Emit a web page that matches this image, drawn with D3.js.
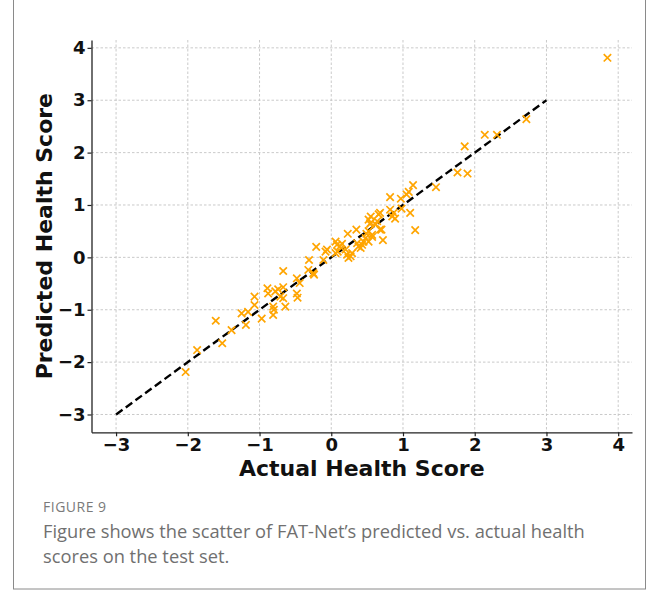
<!DOCTYPE html>
<html>
<head>
<meta charset="utf-8">
<script src="https://cdn.jsdelivr.net/npm/d3@7"></script>
<style>
  body { margin: 0; background: #fff; }
  svg text { font-family: "DejaVu Sans", sans-serif; }
  .cap { font-family: "Open Sans", "Noto Sans", sans-serif; }
</style>
</head>
<body>
<div id="chart"></div>
<script>
// Width and height
var chart_width  = 658;
var chart_height = 591;

// data
var actual = [
  3.85, 2.72, 2.14, 2.31, 1.86, 1.76, 1.90, 1.46, 1.14, 1.08, 1.05, 0.97, 0.82, 1.10, 1.17,
  0.98, 0.82, 0.87, 0.89, 0.85, 0.66, 0.68, 0.62, 0.64, 0.68, 0.72, 0.55, 0.52, 0.55, 0.52,
  0.57, 0.57, 0.48, 0.52, 0.45, 0.43, 0.41, 0.38, 0.36, 0.35, 0.23, 0.29, 0.27, 0.24, 0.22,
  0.20, 0.06, 0.08, 0.12, 0.15, 0.09, 0.06, -0.06, -0.11, -0.08, -0.21, -0.31, -0.32, -0.25, -0.24,
  -0.48, -0.48, -0.47, -0.44, -0.67, -0.67, -0.67, -0.64, -0.71, -0.74, -0.78, -0.80, -0.81, -0.81,
  -0.88, -0.89, -0.97, -1.07, -1.07, -1.16, -1.25, -1.19, -1.39, -1.52, -1.61, -1.87, -2.03,
  0.54, 0.49, 0.70
];
var predicted = [
  3.81, 2.64, 2.34, 2.34, 2.12, 1.62, 1.60, 1.34, 1.38, 1.25, 1.20, 1.12, 1.15, 0.85, 0.52,
  0.93, 0.91, 0.85, 0.74, 0.78, 0.82, 0.85, 0.63, 0.69, 0.53, 0.33, 0.66, 0.72, 0.78, 0.50,
  0.43, 0.39, 0.37, 0.30, 0.30, 0.24, 0.18, 0.21, 0.27, 0.53, 0.45, 0.08, 0.02, -0.01, 0.05,
  0.15, 0.30, 0.24, 0.21, 0.26, 0.11, 0.08, 0.15, -0.05, 0.11, 0.20, -0.05, -0.24, -0.30, -0.33,
  -0.40, -0.69, -0.77, -0.49, -0.26, -0.57, -0.78, -0.94, -0.75, -0.61, -0.65, -1.00, -0.94, -1.10,
  -0.69, -0.59, -1.17, -0.75, -0.91, -1.04, -1.07, -1.29, -1.39, -1.64, -1.21, -1.77, -2.19,
  0.64, 0.45, 0.53
];
var ideal_line = [-3, 3];
var x_ticks = [-3, -2, -1, 0, 1, 2, 3, 4];
var y_ticks = [-3, -2, -1, 0, 1, 2, 3, 4];
var caption_title = 'FIGURE 9';
var caption_lines = [
  'Figure shows the scatter of FAT-Net\u2019s predicted vs. actual health',
  'scores on the test set.'
];

var points = actual.map((a, i) => ({a: a, p: predicted[i]}));

var plot = {left: 91.5, right: 632, top: 40, bottom: 432.3};

var x_scale = d3.scaleLinear().domain([-3.3425, 4.1925]).range([plot.left, plot.right]);
var y_scale = d3.scaleLinear().domain([-3.34, 4.15]).range([plot.bottom, plot.top]);

var minus = (d) => d3.format('d')(d).replace('-', '\u2212');

// Create SVG
var svg = d3.select('#chart')
  .append('svg')
  .attr('width', chart_width)
  .attr('height', chart_height);

// outer frame
svg.append('rect')
  .attr('x', 13.5)
  .attr('y', -5)
  .attr('width', 632)
  .attr('height', 594)
  .attr('fill', 'none')
  .attr('stroke', '#8a8a8a')
  .attr('stroke-width', 1);

// grid
var grid = svg.append('g').attr('class', 'grid');
grid.selectAll('line.gx')
  .data(x_ticks)
  .enter()
  .append('line')
  .attr('x1', (d) => x_scale(d))
  .attr('x2', (d) => x_scale(d))
  .attr('y1', plot.top)
  .attr('y2', plot.bottom)
  .attr('stroke', '#c4c4c4')
  .attr('stroke-width', 0.9)
  .attr('stroke-dasharray', '2.5,2');
grid.selectAll('line.gy')
  .data(y_ticks)
  .enter()
  .append('line')
  .attr('x1', plot.left)
  .attr('x2', plot.right)
  .attr('y1', (d) => y_scale(d))
  .attr('y2', (d) => y_scale(d))
  .attr('stroke', '#c4c4c4')
  .attr('stroke-width', 0.9)
  .attr('stroke-dasharray', '2.5,2');

// axes
var x_axis = svg.append('g')
  .attr('transform', 'translate(0,' + plot.bottom + ')')
  .call(d3.axisBottom(x_scale).tickValues(x_ticks).tickFormat(minus).tickSize(4).tickSizeOuter(0));
var y_axis = svg.append('g')
  .attr('transform', 'translate(' + plot.left + ',0)')
  .call(d3.axisLeft(y_scale).tickValues(y_ticks).tickFormat(minus).tickSize(4).tickSizeOuter(0));

[x_axis, y_axis].forEach((ax) => {
  ax.select('.domain').attr('stroke', '#222').attr('stroke-width', 1.3);
  ax.selectAll('.tick line').attr('stroke', '#222').attr('stroke-width', 1.2);
  ax.selectAll('.tick text')
    .attr('fill', '#111')
    .attr('font-size', 18)
    .attr('font-weight', 'bold')
    .attr('font-family', '"DejaVu Sans", sans-serif');
});
x_axis.selectAll('.tick text').attr('dy', '0.76em').attr('y', 5);
y_axis.selectAll('.tick text').attr('x', -6);

// diagonal reference line
svg.append('line')
  .attr('x1', x_scale(ideal_line[0]))
  .attr('y1', y_scale(ideal_line[0]))
  .attr('x2', x_scale(ideal_line[1]))
  .attr('y2', y_scale(ideal_line[1]))
  .attr('stroke', '#000')
  .attr('stroke-width', 2.4)
  .attr('stroke-dasharray', '8,4');

// scatter markers
var s = 3.7;
svg.append('g')
  .selectAll('path')
  .data(points)
  .enter()
  .append('path')
  .attr('d', (d) => {
    var cx = x_scale(d.a), cy = y_scale(d.p);
    return 'M' + (cx - s) + ',' + (cy - s) + 'L' + (cx + s) + ',' + (cy + s) +
           'M' + (cx - s) + ',' + (cy + s) + 'L' + (cx + s) + ',' + (cy - s);
  })
  .attr('stroke', '#FFA500')
  .attr('stroke-width', 1.7)
  .attr('fill', 'none');

// axis titles
svg.append('text')
  .text('Actual Health Score')
  .attr('x', (plot.left + plot.right) / 2)
  .attr('y', 476)
  .attr('text-anchor', 'middle')
  .attr('font-size', 22)
  .attr('font-weight', 'bold')
  .attr('fill', '#111');

svg.append('text')
  .text('Predicted Health Score')
  .attr('transform', 'translate(52,' + (plot.top + plot.bottom) / 2 + ') rotate(-90)')
  .attr('text-anchor', 'middle')
  .attr('font-size', 22)
  .attr('font-weight', 'bold')
  .attr('fill', '#111');

// caption
svg.append('text')
  .attr('class', 'cap')
  .text(caption_title)
  .attr('x', 43)
  .attr('y', 512)
  .attr('font-size', 14)
  .attr('letter-spacing', 0.5)
  .attr('fill', '#7a7a7a');

svg.selectAll('text.capline')
  .data(caption_lines)
  .enter()
  .append('text')
  .attr('class', 'cap capline')
  .text((d) => d)
  .attr('x', 43)
  .attr('y', (d, i) => 537.5 + i * 25)
  .attr('font-size', 18.3)
  .attr('fill', '#707070');
</script>
</body>
</html>
